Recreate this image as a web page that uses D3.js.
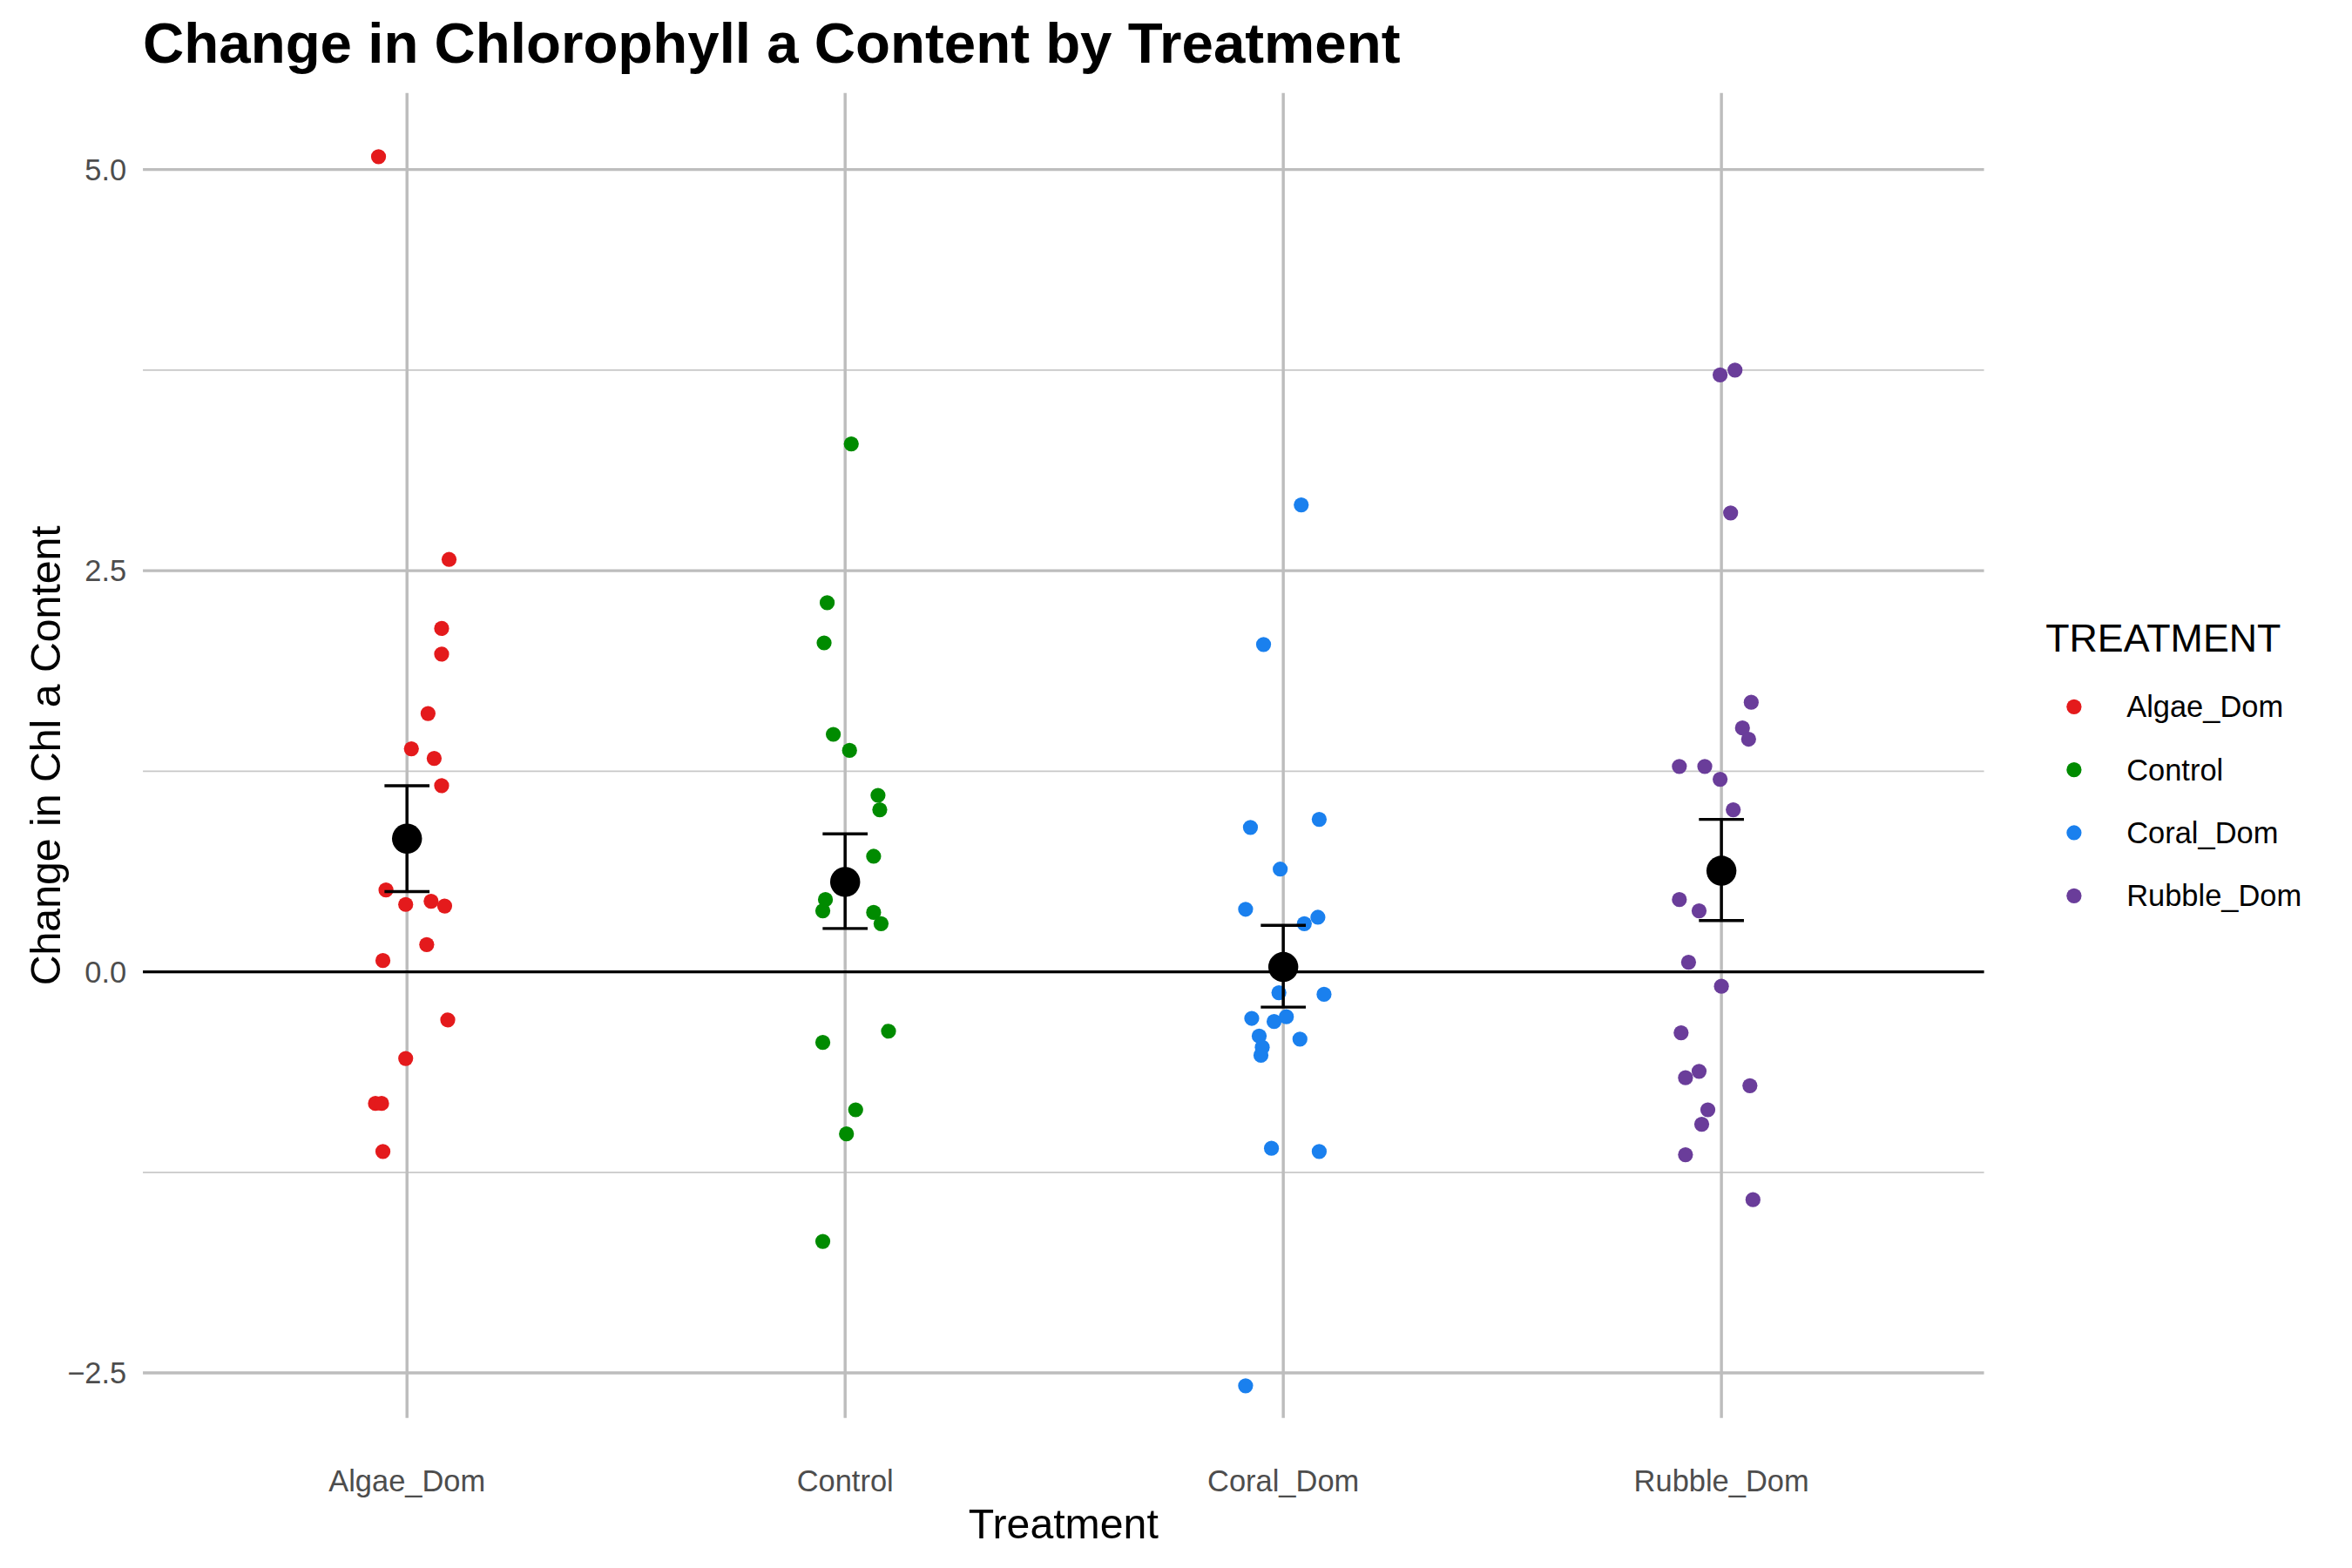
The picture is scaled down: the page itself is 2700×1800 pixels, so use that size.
<!DOCTYPE html>
<html>
<head>
<meta charset="utf-8">
<script src="https://cdn.jsdelivr.net/npm/d3@7"></script>
<style>
  body { margin: 0; background: #fff; }
  text { font-family: "Liberation Sans", Arial, sans-serif; }
</style>
</head>
<body>
<svg id="chart" width="2700" height="1800" viewBox="0 0 1567 1045"></svg>
<script>
// categories and colours
var treatments = ["Algae_Dom", "Control", "Coral_Dom", "Rubble_Dom"];
var colors = ["#e41a1c", "#008b00", "#1a80ee", "#6a3d9a"];

// raw values per treatment and their horizontal jitter
var algaeVals = [5.08, 2.57, 2.14, 1.98, 1.61, 1.39, 1.33, 1.16, 0.51, 0.42, 0.44, 0.41, 0.17, 0.07, -0.30, -0.54, -0.82, -0.82, -1.12];
var algaeJit  = [-0.065, 0.096, 0.079, 0.079, 0.048, 0.010, 0.062, 0.079, -0.048, -0.003, 0.055, 0.086, 0.045, -0.055, 0.093, -0.003, -0.072, -0.058, -0.055];
var controlVals = [3.29, 2.30, 2.05, 1.48, 1.38, 1.10, 1.01, 0.72, 0.45, 0.38, 0.37, 0.30, -0.37, -0.44, -0.86, -1.01, -1.68];
var controlJit  = [0.014, -0.041, -0.048, -0.027, 0.010, 0.075, 0.079, 0.065, -0.045, -0.051, 0.065, 0.082, 0.099, -0.051, 0.024, 0.003, -0.051];
var coralVals = [2.91, 2.04, 0.90, 0.95, 0.64, 0.39, 0.34, 0.30, -0.13, -0.14, -0.28, -0.31, -0.29, -0.40, -0.42, -0.47, -0.52, -1.10, -1.12, -2.58];
var coralJit  = [0.041, -0.045, -0.075, 0.082, -0.007, -0.086, 0.079, 0.048, -0.010, 0.093, 0.007, -0.021, -0.072, -0.055, 0.038, -0.048, -0.051, -0.027, 0.082, -0.086];
var rubbleVals = [3.75, 3.72, 2.86, 1.68, 1.52, 1.45, 1.28, 1.28, 1.20, 1.01, 0.45, 0.38, 0.06, -0.09, -0.38, -0.62, -0.66, -0.71, -0.86, -0.95, -1.14, -1.42];
var rubbleJit  = [0.031, -0.003, 0.021, 0.068, 0.048, 0.062, -0.096, -0.038, -0.003, 0.027, -0.096, -0.051, -0.075, 0.000, -0.092, -0.051, -0.082, 0.065, -0.031, -0.045, -0.082, 0.072];

// summary: mean and error bar ends
var means = [0.83, 0.56, 0.03, 0.63];
var errLow = [0.50, 0.27, -0.22, 0.32];
var errHigh = [1.16, 0.86, 0.29, 0.95];

var yTicks = [-2.5, 0, 2.5, 5];
var yMinor = [-1.25, 1.25, 3.75];

var groups = [
  {vals: algaeVals, jit: algaeJit},
  {vals: controlVals, jit: controlJit},
  {vals: coralVals, jit: coralJit},
  {vals: rubbleVals, jit: rubbleJit}
];

var svg = d3.select("#chart");
var panel = {left: 95, right: 1322, top: 62, bottom: 945};

var x = d3.scalePoint().domain(treatments).range([271, 1147]);
var step = x.step();
var y = d3.scaleLinear().domain([-2.5, 5]).range([915, 113]);

// grid
svg.selectAll(".minor").data(yMinor).enter().append("line")
  .attr("x1", panel.left).attr("x2", panel.right)
  .attr("y1", d => y(d)).attr("y2", d => y(d))
  .attr("stroke", "#c8c8c8").attr("stroke-width", 1);
svg.selectAll(".major").data(yTicks).enter().append("line")
  .attr("x1", panel.left).attr("x2", panel.right)
  .attr("y1", d => y(d)).attr("y2", d => y(d))
  .attr("stroke", "#bdbdbd").attr("stroke-width", 2);
svg.selectAll(".vmajor").data(treatments).enter().append("line")
  .attr("x1", d => x(d)).attr("x2", d => x(d))
  .attr("y1", panel.top).attr("y2", panel.bottom)
  .attr("stroke", "#bdbdbd").attr("stroke-width", 2);

// zero line
svg.append("line")
  .attr("x1", panel.left).attr("x2", panel.right)
  .attr("y1", y(0)).attr("y2", y(0))
  .attr("stroke", "#000").attr("stroke-width", 2);

// points
groups.forEach(function(g, i) {
  svg.append("g").selectAll("circle").data(g.vals).enter().append("circle")
    .attr("cx", (d, j) => x(treatments[i]) + g.jit[j] * step)
    .attr("cy", d => y(d))
    .attr("r", 5)
    .attr("fill", colors[i]);
});

// error bars and means
treatments.forEach(function(t, i) {
  var cx = x(t);
  var g = svg.append("g").attr("stroke", "#000").attr("stroke-width", 2);
  g.append("line").attr("x1", cx).attr("x2", cx).attr("y1", y(errLow[i])).attr("y2", y(errHigh[i]));
  g.append("line").attr("x1", cx - 15).attr("x2", cx + 15).attr("y1", y(errLow[i])).attr("y2", y(errLow[i]));
  g.append("line").attr("x1", cx - 15).attr("x2", cx + 15).attr("y1", y(errHigh[i])).attr("y2", y(errHigh[i]));
  svg.append("circle").attr("cx", cx).attr("cy", y(means[i])).attr("r", 10).attr("fill", "#000");
});

// axes labels
svg.selectAll(".ytick").data(yTicks).enter().append("text")
  .attr("x", 84).attr("y", d => y(d) + 7)
  .attr("text-anchor", "end").attr("font-size", 20).attr("fill", "#4d4d4d")
  .text(d => d3.format(".1f")(d));
svg.selectAll(".xtick").data(treatments).enter().append("text")
  .attr("x", d => x(d)).attr("y", 994)
  .attr("text-anchor", "middle").attr("font-size", 20).attr("fill", "#4d4d4d")
  .text(d => d);

svg.append("text").attr("x", (panel.left + panel.right) / 2).attr("y", 1025)
  .attr("text-anchor", "middle").attr("font-size", 28).text("Treatment");
svg.append("text")
  .attr("transform", "translate(40," + ((panel.top + panel.bottom) / 2) + ") rotate(-90)")
  .attr("text-anchor", "middle").attr("font-size", 28).text("Change in Chl a Content");

svg.append("text").attr("x", 95).attr("y", 42)
  .attr("font-size", 38).attr("font-weight", "bold").text("Change in Chlorophyll a Content by Treatment");

// legend
svg.append("text").attr("x", 1363).attr("y", 434).attr("font-size", 26).text("TREATMENT");
treatments.forEach(function(t, i) {
  var ly = 471 + i * 42;
  svg.append("circle").attr("cx", 1382).attr("cy", ly).attr("r", 5).attr("fill", colors[i]);
  svg.append("text").attr("x", 1417).attr("y", ly + 7).attr("font-size", 20).text(t);
});
</script>
</body>
</html>
